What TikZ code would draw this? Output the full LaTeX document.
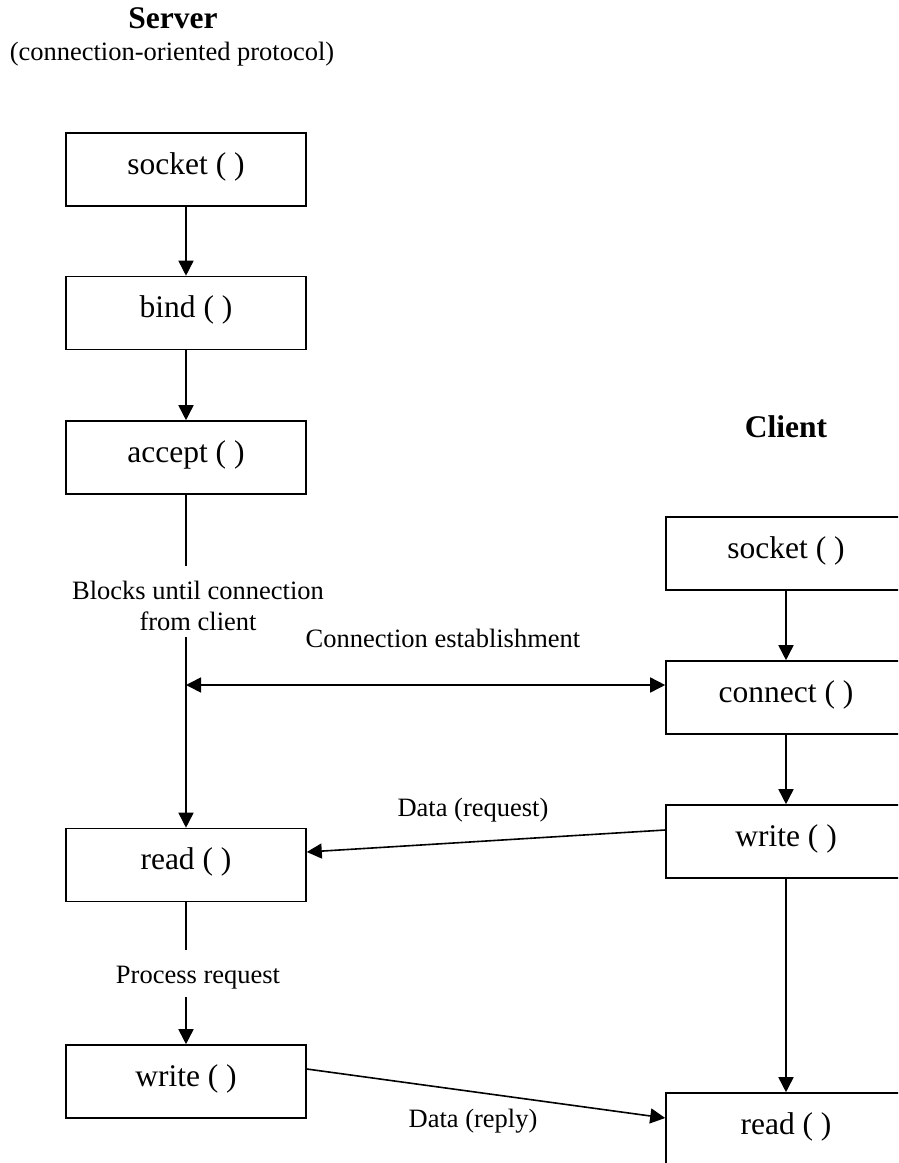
\documentclass[tikz,border=0pt]{standalone}
\usepackage{fontspec}
\setmainfont{Liberation Serif}
\usetikzlibrary{arrows.meta}
\begin{document}
\begin{tikzpicture}[x=1pt,y=-1pt,
  callbox/.style={draw, line width=1.6pt, minimum width=240pt, minimum height=73pt,
    inner sep=0pt, text height=22pt, text depth=13pt,
    font=\fontsize{31.5}{36}\selectfont},
  lbl/.style={anchor=base, inner sep=0pt, font=\fontsize{26.5}{31}\selectfont},
  ttl/.style={anchor=base, inner sep=0pt, font=\fontsize{31.5}{36}\selectfont\bfseries},
  flow/.style={line width=1.6pt},
  arr/.style={flow, -{Triangle[length=15pt,width=15pt]}},
  darr/.style={flow, {Triangle[length=15pt,width=15pt]}-{Triangle[length=15pt,width=15pt]}}]
\useasboundingbox (0,0) rectangle (898,1163);
\clip (0,0) rectangle (898,1163);

% titles
\node[ttl] (srvtitle) at (173,28) {Server};
\node[lbl] (srvsub) at (172,60) {(connection-oriented protocol)};
\node[ttl] (clititle) at (786,437) {Client};

% server calls
\node[callbox] (ssock) at (186,169.5) {socket ( )};
\node[callbox] (sbind) at (186,313) {bind ( )};
\node[callbox] (sacc) at (186,457.5) {accept ( )};
\node[callbox] (sread) at (186,865) {read ( )};
\node[callbox] (swrite) at (186,1081.5) {write ( )};

% client calls (running past the right edge)
\node[callbox] (csock) at (786,553.5) {socket ( )};
\node[callbox] (cconn) at (786,697.5) {connect ( )};
\node[callbox] (cwrite) at (786,841.5) {write ( )};
\node[callbox] (cread) at (786,1129.5) {read ( )};

% server flow
\draw[arr] (ssock) -- (sbind);
\draw[arr] (sbind) -- (sacc);
\coordinate (blk1) at (186,566);
\coordinate (blk2) at (186,637);
\coordinate (est) at (186,685);
\coordinate (proc1) at (186,950);
\coordinate (proc2) at (186,997);
\draw[flow] (sacc) -- (blk1);
\draw[arr] (blk2) -- (sread);
\node[lbl] (blkA) at (198,599) {Blocks until connection};
\node[lbl] (blkB) at (198,630) {from client};
\draw[flow] (sread) -- (proc1);
\draw[arr] (proc2) -- (swrite);
\node[lbl] (proc) at (198,983) {Process request};

% client flow
\draw[arr] (csock) -- (cconn);
\draw[arr] (cconn) -- (cwrite);
\draw[arr] (cwrite) -- (cread);

% exchanges
\draw[darr] (est) -- ([yshift=12.5pt]cconn.west);
\node[lbl] (estlbl) at (443,647) {Connection establishment};
\draw[arr] ([yshift=11.5pt]cwrite.west) -- ([yshift=13pt]sread.east);
\node[lbl] (reqlbl) at (473,816) {Data (request)};
\draw[arr] ([yshift=12.5pt]swrite.east) -- ([yshift=11.5pt]cread.west);
\node[lbl] (replbl) at (473,1127) {Data (reply)};
\end{tikzpicture}
\end{document}
